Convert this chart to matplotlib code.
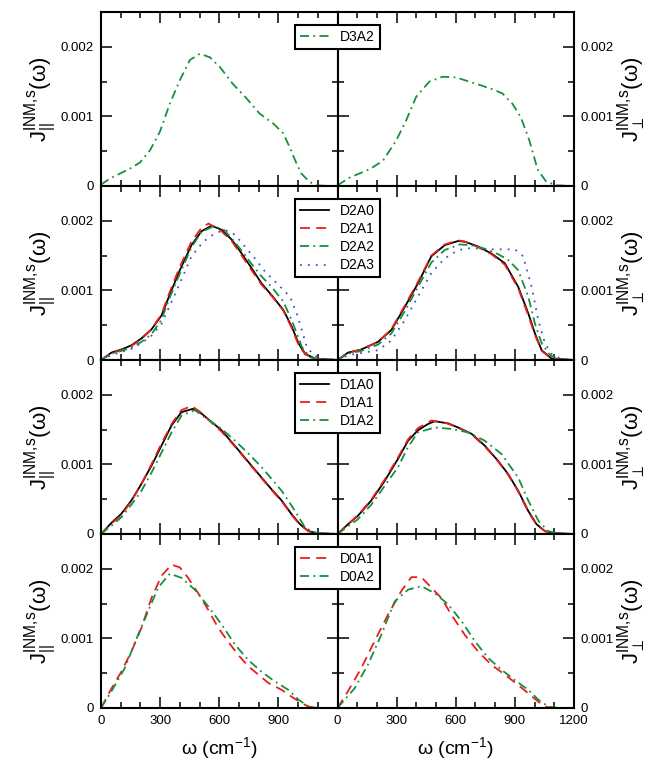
import matplotlib
matplotlib.use('Agg')
import matplotlib.pyplot as plt
import numpy as np
from matplotlib.ticker import MultipleLocator, FuncFormatter
from matplotlib.lines import Line2D

plt.rcParams['font.family'] = ['Liberation Sans', 'DejaVu Sans']
plt.rcParams['mathtext.fontset'] = 'custom'
plt.rcParams['mathtext.rm'] = 'Liberation Sans'
plt.rcParams['mathtext.it'] = 'Liberation Sans'
plt.rcParams['mathtext.bf'] = 'Liberation Sans:bold'
plt.rcParams['mathtext.fallback'] = 'stixsans'

# ---------------- data (J in units of 1e-3) ----------------
# Row 1: D3A2
d3a2_par_w = [0, 45, 147, 197, 248, 299, 349, 400, 451, 501, 552, 603, 668, 738, 805, 873, 924, 957, 991, 1016, 1058, 1092, 1150, 1200]
d3a2_par_j = [0.02, 0.106, 0.25, 0.336, 0.51, 0.78, 1.18, 1.52, 1.81, 1.90, 1.85, 1.71, 1.47, 1.26, 1.04, 0.90, 0.76, 0.56, 0.33, 0.18, 0.06, 0.01, 0.0, 0.0]
d3a2_perp_w = [0, 61, 162, 230, 297, 348, 399, 466, 534, 601, 702, 786, 837, 888, 930, 973, 1015, 1057, 1108, 1200]
d3a2_perp_j = [0.01, 0.12, 0.24, 0.36, 0.65, 0.94, 1.28, 1.50, 1.57, 1.56, 1.47, 1.39, 1.33, 1.18, 0.99, 0.66, 0.24, 0.07, 0.01, 0.0]

# Row 2: D2A0..D2A3
d2a0_par_w = [0, 53, 103, 154, 205, 256, 307, 349, 400, 459, 510, 561, 612, 663, 714, 764, 815, 866, 925, 968, 1002, 1036, 1086, 1200]
d2a0_par_j = [0, 0.106, 0.15, 0.21, 0.31, 0.44, 0.64, 0.94, 1.29, 1.65, 1.85, 1.93, 1.87, 1.73, 1.53, 1.32, 1.10, 0.93, 0.72, 0.48, 0.24, 0.09, 0.02, 0]
d2a1_par_w = [0, 53, 103, 154, 205, 256, 307, 349, 400, 459, 510, 545, 600, 663, 714, 764, 815, 866, 925, 968, 1002, 1036, 1086, 1200]
d2a1_par_j = [0, 0.10, 0.14, 0.20, 0.30, 0.44, 0.66, 0.98, 1.34, 1.70, 1.90, 1.96, 1.88, 1.71, 1.50, 1.29, 1.08, 0.92, 0.71, 0.46, 0.22, 0.08, 0.02, 0]
d2a2_par_w = [0, 53, 103, 154, 205, 256, 307, 349, 400, 459, 510, 570, 620, 663, 714, 764, 815, 866, 925, 968, 1019, 1060, 1100, 1200]
d2a2_par_j = [0, 0.09, 0.13, 0.18, 0.26, 0.37, 0.58, 0.90, 1.24, 1.62, 1.84, 1.92, 1.88, 1.75, 1.57, 1.38, 1.20, 1.05, 0.84, 0.57, 0.19, 0.04, 0.01, 0]
d2a3_par_w = [0, 53, 103, 154, 205, 256, 307, 349, 400, 459, 519, 578, 629, 680, 730, 781, 832, 900, 959, 993, 1019, 1044, 1078, 1120, 1200]
d2a3_par_j = [0, 0.07, 0.115, 0.16, 0.24, 0.35, 0.52, 0.78, 1.10, 1.49, 1.70, 1.82, 1.87, 1.80, 1.63, 1.46, 1.27, 1.08, 0.91, 0.67, 0.43, 0.19, 0.07, 0.02, 0]

d2a0_perp_w = [0, 53, 120, 205, 273, 341, 408, 476, 544, 612, 646, 714, 781, 849, 917, 968, 1002, 1036, 1086, 1200]
d2a0_perp_j = [0, 0.106, 0.15, 0.26, 0.43, 0.76, 1.10, 1.49, 1.65, 1.71, 1.70, 1.63, 1.53, 1.39, 1.05, 0.67, 0.38, 0.14, 0.02, 0]
d2a1_perp_w = [0, 53, 120, 205, 273, 341, 408, 476, 544, 612, 646, 714, 781, 849, 917, 968, 1002, 1036, 1086, 1200]
d2a1_perp_j = [0, 0.10, 0.15, 0.26, 0.44, 0.78, 1.12, 1.50, 1.66, 1.72, 1.70, 1.62, 1.52, 1.37, 1.03, 0.64, 0.36, 0.13, 0.02, 0]
d2a2_perp_w = [0, 53, 120, 205, 273, 341, 408, 476, 544, 620, 680, 747, 815, 866, 917, 968, 1002, 1036, 1078, 1120, 1200]
d2a2_perp_j = [0, 0.09, 0.13, 0.22, 0.38, 0.70, 1.05, 1.40, 1.58, 1.66, 1.65, 1.60, 1.52, 1.44, 1.29, 0.91, 0.52, 0.24, 0.07, 0.01, 0]
d2a3_perp_w = [0, 53, 120, 205, 273, 341, 408, 476, 544, 612, 680, 764, 832, 900, 942, 985, 1019, 1053, 1086, 1130, 1200]
d2a3_perp_j = [0, 0.07, 0.10, 0.14, 0.28, 0.57, 0.91, 1.25, 1.46, 1.58, 1.61, 1.59, 1.59, 1.59, 1.49, 1.05, 0.57, 0.24, 0.09, 0.02, 0]

# Row 3: D1A0..D1A2
d1a0_par_w = [0, 53, 103, 154, 205, 256, 307, 358, 408, 468, 510, 561, 612, 663, 714, 764, 815, 866, 917, 968, 1010, 1053, 1103, 1200]
d1a0_par_j = [0, 0.16, 0.29, 0.48, 0.72, 0.98, 1.27, 1.56, 1.75, 1.80, 1.73, 1.61, 1.49, 1.32, 1.15, 0.98, 0.81, 0.64, 0.48, 0.28, 0.14, 0.04, 0.01, 0]
d1a1_par_w = [0, 53, 103, 154, 205, 256, 307, 358, 408, 460, 510, 561, 612, 663, 714, 764, 815, 866, 917, 968, 1010, 1053, 1103, 1200]
d1a1_par_j = [0, 0.15, 0.27, 0.47, 0.72, 1.00, 1.30, 1.58, 1.78, 1.84, 1.74, 1.60, 1.47, 1.31, 1.14, 0.97, 0.80, 0.63, 0.47, 0.27, 0.13, 0.04, 0.01, 0]
d1a2_par_w = [0, 53, 103, 154, 205, 256, 307, 358, 408, 476, 544, 612, 680, 747, 815, 866, 917, 985, 1036, 1086, 1200]
d1a2_par_j = [0, 0.12, 0.24, 0.42, 0.62, 0.88, 1.17, 1.46, 1.70, 1.78, 1.64, 1.51, 1.34, 1.16, 0.96, 0.79, 0.62, 0.33, 0.09, 0.02, 0]

d1a0_perp_w = [0, 53, 103, 171, 239, 307, 358, 408, 459, 493, 561, 612, 680, 747, 815, 866, 917, 968, 1010, 1053, 1110, 1200]
d1a0_perp_j = [0, 0.14, 0.26, 0.48, 0.76, 1.08, 1.34, 1.49, 1.58, 1.62, 1.59, 1.53, 1.44, 1.27, 1.05, 0.86, 0.62, 0.33, 0.14, 0.04, 0.01, 0]
d1a1_perp_w = [0, 53, 103, 171, 239, 307, 358, 408, 476, 544, 612, 680, 747, 815, 866, 917, 968, 1010, 1053, 1110, 1200]
d1a1_perp_j = [0, 0.14, 0.27, 0.49, 0.78, 1.10, 1.36, 1.52, 1.63, 1.60, 1.53, 1.43, 1.26, 1.04, 0.85, 0.61, 0.32, 0.13, 0.04, 0.01, 0]
d1a2_perp_w = [0, 53, 103, 171, 239, 307, 358, 408, 493, 578, 663, 747, 832, 917, 968, 1019, 1070, 1120, 1200]
d1a2_perp_j = [0, 0.11, 0.21, 0.42, 0.69, 0.96, 1.25, 1.46, 1.53, 1.51, 1.46, 1.34, 1.15, 0.81, 0.48, 0.19, 0.04, 0.01, 0]

# Row 4: D0A1, D0A2
d0a1_par_w = [0, 53, 103, 154, 205, 256, 307, 358, 400, 442, 493, 544, 595, 646, 697, 747, 798, 849, 917, 968, 1019, 1053, 1100, 1200]
d0a1_par_j = [0, 0.28, 0.52, 0.81, 1.15, 1.58, 1.90, 2.06, 2.02, 1.87, 1.65, 1.41, 1.15, 0.95, 0.76, 0.60, 0.48, 0.36, 0.26, 0.16, 0.07, 0.02, 0, 0]
d0a2_par_w = [0, 53, 120, 188, 239, 290, 349, 408, 476, 544, 612, 680, 747, 815, 883, 951, 1002, 1053, 1100, 1200]
d0a2_par_j = [0, 0.24, 0.57, 1.05, 1.39, 1.73, 1.93, 1.87, 1.70, 1.46, 1.20, 0.91, 0.69, 0.52, 0.38, 0.26, 0.12, 0.02, 0, 0]

d0a1_perp_w = [0, 53, 120, 188, 256, 324, 375, 425, 476, 527, 578, 646, 714, 781, 849, 917, 968, 1019, 1053, 1100, 1200]
d0a1_perp_j = [0, 0.24, 0.57, 0.96, 1.34, 1.68, 1.88, 1.88, 1.73, 1.58, 1.34, 1.05, 0.81, 0.62, 0.48, 0.33, 0.21, 0.09, 0.02, 0, 0]
d0a2_perp_w = [0, 86, 154, 222, 290, 358, 425, 493, 561, 629, 697, 764, 832, 900, 968, 1019, 1070, 1120, 1200]
d0a2_perp_j = [0, 0.28, 0.62, 1.05, 1.53, 1.70, 1.75, 1.65, 1.49, 1.25, 0.96, 0.72, 0.55, 0.40, 0.26, 0.12, 0.02, 0, 0]

x_ticks_left = [0, 300, 600, 900]
x_ticks_right = [0, 300, 600, 900, 1200]
y_ticks = [0, 0.001, 0.002]

# ---------------- styles ----------------
STY = {
    'A0': dict(color='#000000', linestyle='-'),
    'A1': dict(color='#ee1c1c', linestyle=(0, (5.5, 3.5))),
    'A2': dict(color='#16903c', linestyle=(0, (5.0, 2.4, 1.0, 2.4))),
    'A3': dict(color='#3a55c8', linestyle=(0, (1.0, 3.4))),
}
LW = 1.3

rows = [
    [('D3A2', 'A2', d3a2_par_w, d3a2_par_j, d3a2_perp_w, d3a2_perp_j)],
    [('D2A0', 'A0', d2a0_par_w, d2a0_par_j, d2a0_perp_w, d2a0_perp_j),
     ('D2A1', 'A1', d2a1_par_w, d2a1_par_j, d2a1_perp_w, d2a1_perp_j),
     ('D2A2', 'A2', d2a2_par_w, d2a2_par_j, d2a2_perp_w, d2a2_perp_j),
     ('D2A3', 'A3', d2a3_par_w, d2a3_par_j, d2a3_perp_w, d2a3_perp_j)],
    [('D1A0', 'A0', d1a0_par_w, d1a0_par_j, d1a0_perp_w, d1a0_perp_j),
     ('D1A1', 'A1', d1a1_par_w, d1a1_par_j, d1a1_perp_w, d1a1_perp_j),
     ('D1A2', 'A2', d1a2_par_w, d1a2_par_j, d1a2_perp_w, d1a2_perp_j)],
    [('D0A1', 'A1', d0a1_par_w, d0a1_par_j, d0a1_perp_w, d0a1_perp_j),
     ('D0A2', 'A2', d0a2_par_w, d0a2_par_j, d0a2_perp_w, d0a2_perp_j)],
]

W, H = 656, 762
fig = plt.figure(figsize=(W / 100, H / 100), dpi=100)
col_x = [101, 337.5]
col_w = 236.5
row_top = 12
row_h = 174


def yfmt(v, pos):
    if abs(v) < 1e-12:
        return '0'
    return f'{v:.3f}'


for r, series in enumerate(rows):
    for c in range(2):
        ax = fig.add_axes([col_x[c] / W, 1 - (row_top + (r + 1) * row_h) / H,
                           col_w / W, row_h / H])
        for name, key, wp, jp, wq, jq in series:
            w = wp if c == 0 else wq
            j = jp if c == 0 else jq
            ax.plot(w, np.array(j) * 1e-3, lw=LW, **STY[key])
        ax.set_xlim(0, 1200)
        ax.set_ylim(0, 0.0025)
        ax.set_xticks(x_ticks_left if c == 0 else x_ticks_right)
        ax.xaxis.set_minor_locator(MultipleLocator(100))
        ax.set_yticks(y_ticks)
        ax.yaxis.set_minor_locator(MultipleLocator(0.0005))
        ax.yaxis.set_major_formatter(FuncFormatter(yfmt))
        ax.tick_params(which='both', direction='in', top=True, bottom=True,
                       left=True, right=True, width=1.1, labelsize=9.5)
        ax.tick_params(which='major', length=8)
        ax.tick_params(which='minor', length=4.5)
        ax.tick_params(axis='y', pad=5)
        ax.tick_params(axis='x', pad=5)
        for s in ax.spines.values():
            s.set_linewidth(1.5)
        if r < 3:
            ax.tick_params(labelbottom=False)
        else:
            ax.set_xlabel('ω (cm$^{-1}$)', fontsize=14, labelpad=6)
        if c == 0:
            ax.tick_params(labelleft=True, labelright=False)
            ax.set_ylabel('J$_{||}^{\\mathregular{INM{,}s}}$(ω)', fontsize=16, labelpad=1)
        else:
            ax.tick_params(labelleft=False, labelright=True)
            ax.yaxis.set_label_position('right')
            ax.set_ylabel('J$_{\\perp}^{\\mathregular{INM{,}s}}$(ω)', fontsize=16,
                          labelpad=1, rotation=90)
    handles = [Line2D([], [], lw=LW, **STY[s[1]]) for s in series]
    labels = [s[0] for s in series]
    leg = fig.legend(handles, labels, loc='upper left',
                     bbox_to_anchor=(295 / W, 1 - (row_top + r * row_h + 13) / H),
                     bbox_transform=fig.transFigure, borderaxespad=0,
                     fancybox=False, edgecolor='black', framealpha=1,
                     fontsize=10, handlelength=2.1, handletextpad=0.8,
                     labelspacing=0.3, borderpad=0.35)
    leg.get_frame().set_linewidth(1.5)

fig.savefig('out.png', dpi=100)
